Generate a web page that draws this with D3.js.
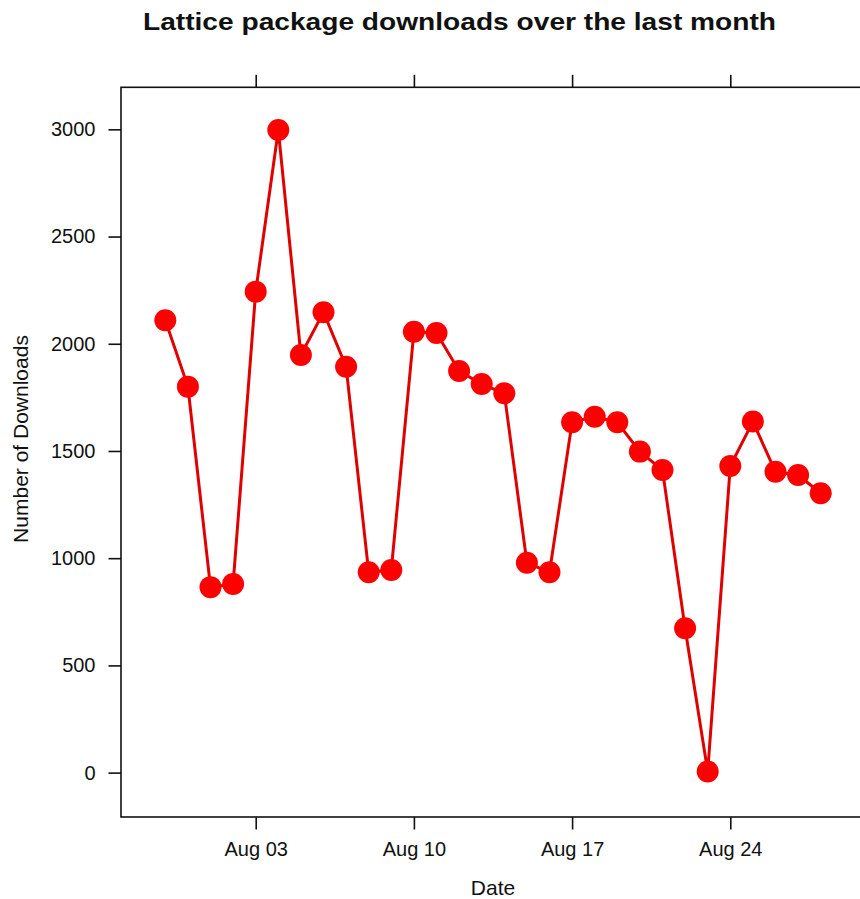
<!DOCTYPE html>
<html>
<head>
<meta charset="utf-8">
<script src="https://cdn.jsdelivr.net/npm/d3@7"></script>
<style>
  html, body { margin: 0; padding: 0; background: #fff; }
  svg { display: block; }
  text { font-family: "Liberation Sans", Arial, sans-serif; fill: #111; }
</style>
</head>
<body>
<svg id="chart" width="860" height="899"></svg>
<script>
// Data
const dates = [
  "2014-07-30","2014-07-31","2014-08-01","2014-08-02","2014-08-03","2014-08-04",
  "2014-08-05","2014-08-06","2014-08-07","2014-08-08","2014-08-09","2014-08-10",
  "2014-08-11","2014-08-12","2014-08-13","2014-08-14","2014-08-15","2014-08-16",
  "2014-08-17","2014-08-18","2014-08-19","2014-08-20","2014-08-21","2014-08-22",
  "2014-08-23","2014-08-24","2014-08-25","2014-08-26","2014-08-27","2014-08-28"
];
const downloads = [
  2110, 1800, 865, 880, 2243, 2997,
  1948, 2147, 1893, 934, 945, 2056,
  2050, 1873, 1812, 1769, 979, 934,
  1634, 1660, 1634, 1497, 1411, 673,
  5, 1430, 1637, 1403, 1388, 1303
];
const yTicks = [0, 500, 1000, 1500, 2000, 2500, 3000];
const xTickDates = ["2014-08-03","2014-08-10","2014-08-17","2014-08-24"];
const xTickLabels = ["Aug 03","Aug 10","Aug 17","Aug 24"];
const titleText = "Lattice package downloads over the last month";
const xLabel = "Date";
const yLabel = "Number of Downloads";

(function () {
const parse = d3.utcParse("%Y-%m-%d");
const data = dates.map((d, i) => ({ date: parse(d), value: downloads[i] }));

const svg = d3.select("#chart");
const pLeft = 121, pRight = 865, pTop = 87.3, pBottom = 817;

// lattice-like padding on each side
const xExt = d3.extent(data, d => d.date);
const span = xExt[1] - xExt[0];
const pad = 0.0676;
const x = d3.scaleUtc()
  .domain([new Date(+xExt[0] - pad * span), new Date(+xExt[1] + pad * span)])
  .range([pLeft, pRight]);

const y = d3.scaleLinear()
  .domain([-207, 3196])
  .range([pBottom, pTop]);

// Title
svg.append("text")
  .attr("x", 459.5).attr("y", 29.5)
  .attr("text-anchor", "middle")
  .attr("font-size", 24).attr("font-weight", "bold")
  .attr("textLength", 633).attr("lengthAdjust", "spacingAndGlyphs")
  .text(titleText);

// Axes
const tickLen = 12.5;
const tickFont = 20;
const yAxis = d3.axisLeft(y).tickValues(yTicks).tickSize(tickLen).tickPadding(13).tickFormat(d3.format("d"));
const gy = svg.append("g").attr("transform", `translate(${pLeft},0)`).call(yAxis);
gy.select(".domain").remove();
gy.selectAll(".tick line").attr("stroke", "#111").attr("stroke-width", 1.6);
gy.selectAll(".tick text").attr("font-size", tickFont).attr("fill", "#222").attr("font-family", "Liberation Sans, Arial, sans-serif");

const xTickVals = xTickDates.map(parse);
const xAxis = d3.axisBottom(x).tickValues(xTickVals).tickSize(tickLen).tickPadding(12)
  .tickFormat((d, i) => xTickLabels[i]);
const gx = svg.append("g").attr("transform", `translate(0,${pBottom})`).call(xAxis);
gx.select(".domain").remove();
gx.selectAll(".tick line").attr("stroke", "#111").attr("stroke-width", 1.6);
gx.selectAll(".tick text").attr("font-size", tickFont).attr("fill", "#222").attr("font-family", "Liberation Sans, Arial, sans-serif");

const xAxisTop = d3.axisTop(x).tickValues(xTickVals).tickSize(tickLen).tickFormat("");
const gxt = svg.append("g").attr("transform", `translate(0,${pTop})`).call(xAxisTop);
gxt.select(".domain").remove();
gxt.selectAll(".tick line").attr("stroke", "#111").attr("stroke-width", 1.6);

// Panel box
svg.append("rect")
  .attr("x", pLeft).attr("y", pTop)
  .attr("width", pRight - pLeft).attr("height", pBottom - pTop)
  .attr("fill", "none").attr("stroke", "#111").attr("stroke-width", 1.6);

// Axis labels
svg.append("text")
  .attr("x", (pLeft + pRight) / 2).attr("y", 895)
  .attr("text-anchor", "middle").attr("font-size", 21).attr("fill", "#222")
  .text(xLabel);
svg.append("text")
  .attr("transform", `translate(28,439) rotate(-90)`)
  .attr("text-anchor", "middle").attr("font-size", 21).attr("fill", "#222")
  .text(yLabel);

// Line
const line = d3.line().x(d => x(d.date)).y(d => y(d.value));
svg.append("path")
  .datum(data)
  .attr("d", line)
  .attr("fill", "none")
  .attr("stroke", "#e00000")
  .attr("stroke-width", 3);

// Points
svg.append("g").selectAll("circle")
  .data(data).join("circle")
  .attr("cx", d => x(d.date)).attr("cy", d => y(d.value))
  .attr("r", 11)
  .attr("fill", "#ff0000");
})();
</script>
</body>
</html>
